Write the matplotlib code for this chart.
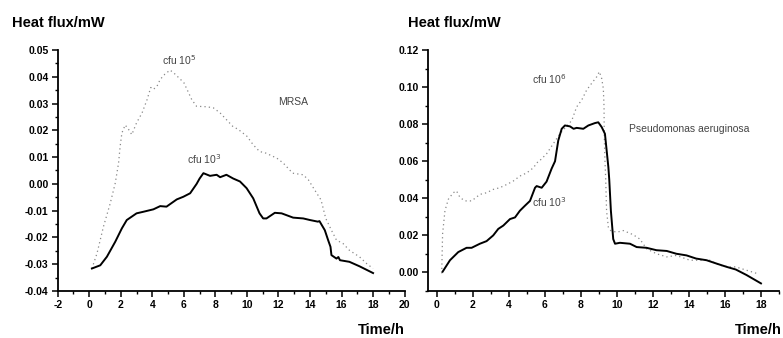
import numpy as np
import matplotlib
matplotlib.use("Agg")
from matplotlib import pyplot as plt
from matplotlib.ticker import MultipleLocator, FormatStrFormatter

plt.rcParams['font.family'] = ['Liberation Sans', 'DejaVu Sans']
plt.rcParams['axes.unicode_minus'] = False

# MRSA, cfu 10^3 (solid)
mrsa_lo_t = [0.17, 0.7, 1.12, 1.65, 2.07, 2.38, 3.0, 3.44, 4.07, 4.5, 4.9, 5.55, 5.97, 6.4, 6.81,
             7.0, 7.24, 7.66, 8.08, 8.3, 8.7, 9.13, 9.56, 9.98, 10.4, 10.8, 11.03, 11.24, 11.77,
             12.2, 12.93, 13.57, 14.0, 14.5, 14.6, 14.94, 15.15, 15.3, 15.36, 15.68, 15.8, 15.9,
             16.5, 17.15, 18.0]
mrsa_lo_q = [-0.0316, -0.0304, -0.0272, -0.0216, -0.0166, -0.0135, -0.011, -0.0104, -0.0095,
             -0.0083, -0.0085, -0.0058, -0.0048, -0.0035, 0.0, 0.002, 0.004, 0.003, 0.0034,
             0.0025, 0.0034, 0.002, 0.0009, -0.0016, -0.0054, -0.011, -0.0129, -0.0129, -0.0108,
             -0.011, -0.0126, -0.0129, -0.0135, -0.0141, -0.0139, -0.0173, -0.021, -0.0235,
             -0.0266, -0.0279, -0.0273, -0.0285, -0.0291, -0.0308, -0.0333]

# MRSA, cfu 10^5 (dotted)
mrsa_hi_t = [0.17, 0.49, 0.9, 1.33, 1.65, 1.86, 1.96, 2.07, 2.28, 2.5, 2.7, 3.0, 3.35, 3.67, 3.9,
             4.07, 4.3, 4.5, 4.8, 5.13, 5.44, 6.0, 6.2, 6.5, 6.8, 7.45, 7.87, 8.3, 8.7, 9.1, 9.46,
             10.0, 10.4, 10.8, 11.2, 11.9, 12.3, 12.9, 13.57, 13.9, 14.3, 14.7, 15.0, 15.36,
             15.68, 16.1, 16.5, 17.15, 17.6, 18.0]
mrsa_hi_q = [-0.0316, -0.026, -0.016, -0.0073, 0.0003, 0.0078, 0.014, 0.019, 0.022, 0.0203,
             0.0184, 0.0228, 0.0265, 0.0315, 0.036, 0.0353, 0.0365, 0.039, 0.041, 0.0425, 0.041,
             0.0378, 0.0353, 0.0315, 0.029, 0.0288, 0.0284, 0.0265, 0.024, 0.0215, 0.0203,
             0.0178, 0.0146, 0.0121, 0.0115, 0.0096, 0.0078, 0.004, 0.0034, 0.0015, -0.0023,
             -0.006, -0.0129, -0.0173, -0.021, -0.0223, -0.0248, -0.0273, -0.0298, -0.0316]

# Pseudomonas aeruginosa, cfu 10^3 (solid)
pa_lo_t = [0.33, 0.74, 1.2, 1.66, 1.94, 2.4, 2.77, 3.14, 3.42, 3.7, 4.07, 4.35, 4.62, 4.9, 5.18,
           5.46, 5.55, 5.83, 6.1, 6.38, 6.57, 6.75, 6.94, 7.12, 7.4, 7.6, 7.77, 8.14, 8.42, 8.79,
           8.97, 9.16, 9.34, 9.53, 9.58, 9.67, 9.8, 9.9, 10.17, 10.73, 11.1, 11.65, 12.2, 12.77,
           13.3, 13.87, 14.4, 14.98, 15.53, 16.1, 16.6, 17.2, 18.0]
pa_lo_q = [0.0004, 0.0066, 0.011, 0.0133, 0.0133, 0.0155, 0.0169, 0.02, 0.0235, 0.0253, 0.0288,
           0.0297, 0.0333, 0.036, 0.0386, 0.0457, 0.0466, 0.0457, 0.049, 0.056, 0.06, 0.0712,
           0.0775, 0.0793, 0.0788, 0.0775, 0.078, 0.0775, 0.0793, 0.0806, 0.081, 0.0784, 0.0748,
           0.0568, 0.05, 0.0333, 0.018, 0.0155, 0.016, 0.0155, 0.0137, 0.0133, 0.012, 0.0116,
           0.0101, 0.0092, 0.0075, 0.0066, 0.0048, 0.003, 0.0016, -0.0014, -0.0059]

# Pseudomonas aeruginosa, cfu 10^6 (dotted)
pa_hi_t = [0.28, 0.33, 0.46, 0.65, 0.92, 1.1, 1.3, 1.57, 1.94, 2.4, 2.77, 3.14, 3.5, 3.9, 4.25,
           4.62, 5.0, 5.36, 5.64, 5.73, 6.1, 6.47, 6.84, 7.5, 7.77, 8.05, 8.32, 8.6, 8.88, 9.03,
           9.16, 9.25, 9.29, 9.3, 9.34, 9.38, 9.43, 9.53, 9.66, 9.99, 10.36, 10.9, 11.28, 11.65,
           12.2, 12.77, 13.3, 14.05, 14.6, 15.15, 15.7, 16.25, 16.6, 17.2, 17.76]
pa_hi_q = [-0.0005, 0.0208, 0.0333, 0.0395, 0.043, 0.044, 0.0404, 0.0386, 0.0386, 0.0421, 0.043,
           0.0448, 0.0457, 0.0475, 0.0493, 0.052, 0.0537, 0.0564, 0.06, 0.0604, 0.064, 0.0694,
           0.0748, 0.082, 0.0893, 0.093, 0.0983, 0.102, 0.1055, 0.1083, 0.1046, 0.0992, 0.0893,
           0.0748, 0.0604, 0.051, 0.0333, 0.0244, 0.0226, 0.0217, 0.0226, 0.0204, 0.018, 0.0128,
           0.0101, 0.0084, 0.0092, 0.0066, 0.0066, 0.0066, 0.0039, 0.003, 0.003, 0.0012, -0.0005]

W, H = 783, 338
fig = plt.figure(figsize=(W / 100, H / 100), dpi=100)
ax1 = fig.add_axes([57.7 / W, 1 - 291 / H, (404.6 - 57.7) / W, (291 - 50) / H])
ax2 = fig.add_axes([428 / W, 1 - 291 / H, (779 - 428) / W, (291 - 50) / H])


def style(ax, ymaj, ymin, fmt):
    for s in ['top', 'right']:
        ax.spines[s].set_visible(False)
    for s in ['left', 'bottom']:
        ax.spines[s].set_linewidth(1.3)
    ax.xaxis.set_major_locator(MultipleLocator(2))
    ax.xaxis.set_minor_locator(MultipleLocator(1))
    ax.yaxis.set_major_locator(MultipleLocator(ymaj))
    ax.yaxis.set_minor_locator(MultipleLocator(ymin))
    ax.yaxis.set_major_formatter(FormatStrFormatter(fmt))
    ax.tick_params(which='major', length=4, width=1.1, labelsize=7.5, pad=2.5)
    ax.tick_params(which='minor', length=2, width=1.0)
    for lab in ax.get_xticklabels() + ax.get_yticklabels():
        lab.set_fontweight('bold')


ax1.plot(mrsa_hi_t, mrsa_hi_q, ls=(0, (1, 2.5)), color='#888888', lw=0.9)
ax1.plot(mrsa_lo_t, mrsa_lo_q, color='black', lw=1.4)
ax1.set_xlim(-2, 20)
ax1.set_ylim(-0.04, 0.05)
style(ax1, 0.01, 0.005, '%.2f')
tc = '#444444'
ax1.text(4.6, 0.0445, 'cfu 10$^5$', fontsize=7.5, color=tc)
ax1.text(12.0, 0.0293, 'MRSA', fontsize=7.5, color=tc)
ax1.text(6.2, 0.0073, 'cfu 10$^3$', fontsize=7.5, color=tc)

ax2.plot(pa_hi_t, pa_hi_q, ls=(0, (1, 2.5)), color='#888888', lw=0.9)
ax2.plot(pa_lo_t, pa_lo_q, color='black', lw=1.4)
ax2.set_xlim(-0.48, 19)
ax2.set_ylim(-0.01, 0.12)
style(ax2, 0.02, 0.01, '%.2f')
ax2.text(5.3, 0.1015, 'cfu 10$^6$', fontsize=7.5, color=tc)
ax2.text(10.7, 0.0755, 'Pseudomonas aeruginosa', fontsize=7.5, color=tc)
ax2.text(5.3, 0.0355, 'cfu 10$^3$', fontsize=7.5, color=tc)

fig.text(12 / W, 1 - 27 / H, 'Heat flux/mW', fontsize=10.5, fontweight='bold')
fig.text(408 / W, 1 - 27 / H, 'Heat flux/mW', fontsize=10.5, fontweight='bold')
fig.text(405 / W, 1 - 334 / H, 'Time/h', fontsize=10.5, fontweight='bold', ha='right')
fig.text(782 / W, 1 - 334 / H, 'Time/h', fontsize=10.5, fontweight='bold', ha='right')

fig.savefig('out.png', dpi=100)
